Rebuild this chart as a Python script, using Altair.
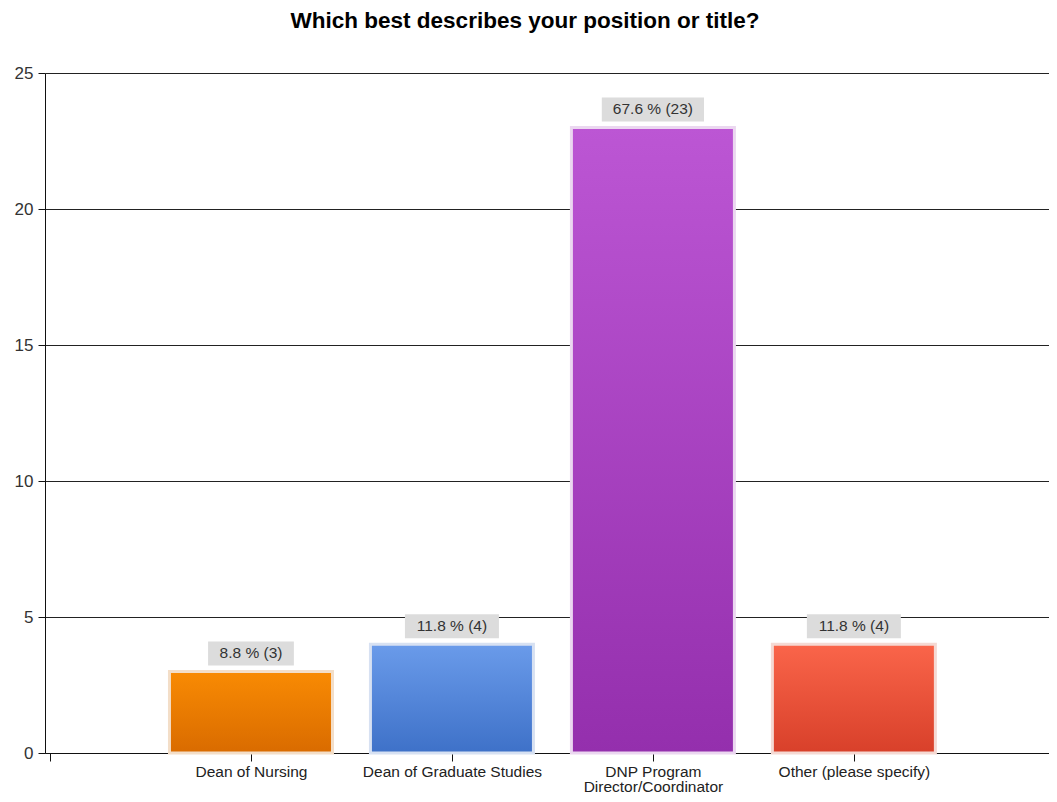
import altair as alt
import pandas as pd
import json

# ---- data ----
categories = ["Dean of Nursing", "Dean of Graduate Studies",
              "DNP Program\nDirector/Coordinator", "Other (please specify)"]
counts = [3, 4, 23, 4]
percents = [8.8, 11.8, 67.6, 11.8]
slots = [1, 2, 3, 4]
top_colors = ["#F98B03", "#6A9BEA", "#BC56D4", "#FA654A"]
bottom_colors = ["#D96B00", "#3E71C8", "#942FAD", "#D8402A"]
edge_colors = ["#F3DEC8", "#D7E1F2", "#EBD7F0", "#F5D9D3"]
y_ticks = [0, 5, 10, 15, 20, 25]
x_ticks = [0, 1, 2, 3, 4]

df = pd.DataFrame({
    "cat": categories,
    "count": counts,
    "pct": percents,
    "slot": slots,
})
df["label"] = [f"{p} % ({c})" for p, c in zip(percents, counts)]

# x-axis label expression built from category list
parts = []
for s, c in zip(slots, categories):
    lines = c.split("\n")
    val = json.dumps(lines) if len(lines) > 1 else json.dumps(lines[0])
    parts.append(f"datum.value == {s} ? {val} : ")
label_expr = "".join(parts) + "''"

xscale = alt.Scale(domain=[0, 4.946], nice=False, zero=False)
yscale = alt.Scale(domain=[0, 25], nice=False)

x_axis = alt.Axis(values=x_ticks, tickSize=8, labelExpr=label_expr, grid=False,
                  domainColor="#111", tickColor="#111", labelFontSize=15.5,
                  labelColor="#222", labelPadding=3, labelFont="Liberation Sans",
                  labelLineHeight=15.5, labelBaseline="top", title=None)
y_axis = alt.Axis(values=y_ticks, tickSize=7, grid=True, gridColor="#222",
                  gridOpacity=1, domainColor="#111", tickColor="#111",
                  labelFontSize=17, labelColor="#333", labelPadding=5,
                  labelFont="Liberation Sans", title=None)

base = alt.Chart(df)

layers = []
for i, (top, bot, edge) in enumerate(zip(top_colors, bottom_colors, edge_colors)):
    grad = alt.Gradient(
        gradient="linear",
        stops=[alt.GradientStop(color=top, offset=0), alt.GradientStop(color=bot, offset=1)],
        x1=0, x2=0, y1=0, y2=1,
    )
    bar = base.transform_filter(alt.datum.slot == slots[i]).mark_bar(
        size=163, fill=grad, stroke=edge, strokeWidth=3
    ).encode(
        x=alt.X("slot:Q", scale=xscale, axis=x_axis),
        y=alt.Y("count:Q", scale=yscale, axis=y_axis),
    )
    layers.append(bar)

for i, s in enumerate(slots):
    lab = df["label"][i]
    w = 8.2 * len(lab) + 12
    box = base.transform_filter(alt.datum.slot == s).transform_calculate(
        b0="datum.count + 0.22", b1="datum.count + 1.1"
    ).mark_bar(size=w, color="#DCDCDC").encode(
        x=alt.X("slot:Q", scale=xscale, axis=x_axis),
        y=alt.Y("b0:Q", scale=yscale, axis=y_axis),
        y2="b1:Q",
    )
    layers.append(box)

text = base.transform_calculate(t="datum.count + 0.66").mark_text(
    fontSize=15.5, color="#333", font="Liberation Sans", baseline="middle"
).encode(
    x=alt.X("slot:Q", scale=xscale, axis=x_axis),
    y=alt.Y("t:Q", scale=yscale, axis=y_axis),
    text="label:N",
)
layers.append(text)

chart = alt.layer(*layers).properties(
    width=1004,
    height=680,
    title=alt.Title("Which best describes your position or title?", fontSize=22.5,
                    font="Liberation Sans", fontWeight="bold", color="#000",
                    anchor="middle", dx=-22, offset=32),
    autosize=alt.AutoSizeParams(type="none"),
    padding={"left": 37, "top": 65, "right": 0, "bottom": 41},
).configure_view(stroke=None)

chart.save("out.html", embed_options={"renderer": "svg", "actions": False})
